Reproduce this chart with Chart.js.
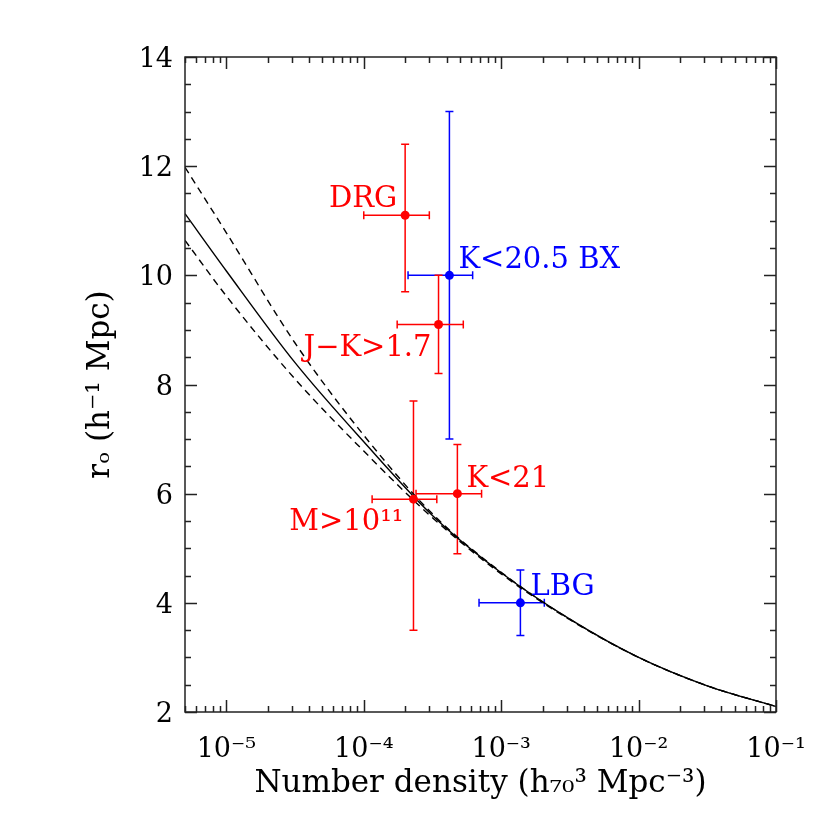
<!DOCTYPE html>
<html>
<head>
<meta charset="utf-8">
<script src="https://cdn.jsdelivr.net/npm/chart.js@4.4.1/dist/chart.umd.min.js"></script>
<style>
html,body{margin:0;padding:0;background:#ffffff;}
#wrap{width:830px;height:830px;position:relative;}
</style>
</head>
<body>
<div id="wrap"><canvas id="c"></canvas></div>
<script>
// ---- data ----
const sampleNames = ['DRG', 'K<20.5 BX', 'J\u2212K>1.7', 'K<21', 'M>10\u00B9\u00B9', 'LBG'];
const density     = [2.0e-4, 4.2e-4, 3.5e-4, 4.8e-4, 2.3e-4, 1.38e-3];
const densityLow  = [1.0e-4, 2.1e-4, 1.75e-4, 2.4e-4, 1.15e-4, 6.9e-4];
const densityHigh = [3.0e-4, 6.2e-4, 5.3e-4, 7.2e-4, 3.4e-4, 2.06e-3];
const r0          = [11.1, 10.0, 9.1, 6.0, 5.9, 4.0];
const r0Low       = [9.7, 7.0, 8.2, 4.9, 3.5, 3.4];
const r0High      = [12.4, 13.0, 10.0, 6.9, 7.7, 4.6];

const modelDensity = [5e-6, 1e-5, 3.16e-5, 1e-4, 3.16e-4, 1e-3, 3.16e-3, 1e-2, 3.16e-2, 1e-1];
const modelR0      = [11.13, 10.08, 8.40, 6.95, 5.60, 4.55, 3.70, 3.00, 2.48, 2.10];
const modelR0Upper = [11.98, 10.78, 8.76, 7.07, 5.63, 4.56, 3.70, 3.00, 2.48, 2.10];
const modelR0Lower = [10.64, 9.62, 8.10, 6.78, 5.56, 4.53, 3.69, 3.00, 2.48, 2.10];

const xTickValues = [1e-5, 1e-4, 1e-3, 1e-2, 1e-1];
const xTickLabels = ['10\u207B\u2075', '10\u207B\u2074', '10\u207B\u00B3', '10\u207B\u00B2', '10\u207B\u00B9'];
const yTickValues = [2, 4, 6, 8, 10, 12, 14];

// ---- styles ----
const RED = '#ff0000', BLUE = '#0000ff';
const sampleColors = [RED, BLUE, RED, RED, RED, BLUE];
// label placement relative to the point: [dx, dy, align]
const labelPlacement = [[-8, -8, 'right'], [9, -7, 'left'], [-7, 32, 'right'], [9, -7, 'left'], [-10, 31, 'right'], [10, -8, 'left']];
const FONT = "'DejaVu Serif', 'DejaVu Sans', serif";

const points = density.map((d, i) => ({x: d, y: r0[i]}));
const toXY = (xs, ys) => xs.map((x, i) => ({x: x, y: ys[i]}));

const errorBarPlugin = {
  id: 'errorBars',
  beforeDatasetsDraw(chart) {
    const {ctx, scales: {x, y}} = chart;
    const cap = 4;
    ctx.save();
    ctx.lineWidth = 1.5;
    density.forEach((d, i) => {
      const px = x.getPixelForValue(d), py = y.getPixelForValue(r0[i]);
      const xl = x.getPixelForValue(densityLow[i]), xh = x.getPixelForValue(densityHigh[i]);
      const yl = y.getPixelForValue(r0Low[i]), yh = y.getPixelForValue(r0High[i]);
      ctx.strokeStyle = sampleColors[i];
      ctx.beginPath();
      ctx.moveTo(xl, py); ctx.lineTo(xh, py);
      ctx.moveTo(xl, py - cap); ctx.lineTo(xl, py + cap);
      ctx.moveTo(xh, py - cap); ctx.lineTo(xh, py + cap);
      ctx.moveTo(px, yl); ctx.lineTo(px, yh);
      ctx.moveTo(px - cap, yl); ctx.lineTo(px + cap, yl);
      ctx.moveTo(px - cap, yh); ctx.lineTo(px + cap, yh);
      ctx.stroke();
    });
    ctx.restore();
  }
};

const labelPlugin = {
  id: 'sampleLabels',
  afterDatasetsDraw(chart) {
    const {ctx, scales: {x, y}} = chart;
    ctx.save();
    ctx.font = "29px " + FONT;
    ctx.textBaseline = 'alphabetic';
    sampleNames.forEach((name, i) => {
      const [dx, dy, align] = labelPlacement[i];
      ctx.fillStyle = sampleColors[i];
      ctx.textAlign = align;
      ctx.fillText(name, x.getPixelForValue(density[i]) + dx, y.getPixelForValue(r0[i]) + dy);
    });
    ctx.restore();
  }
};

const framePlugin = {
  id: 'frameTicks',
  afterDraw(chart) {
    const {ctx, chartArea: a, scales: {x, y}} = chart;
    ctx.save();
    ctx.strokeStyle = '#222';
    ctx.lineWidth = 1.5;
    ctx.strokeRect(a.left, a.top, a.right - a.left, a.bottom - a.top);
    ctx.beginPath();
    const major = 12, minor = 6;
    const yMajor = y.ticks.map(t => t.value);
    const yStep = yMajor[1] - yMajor[0];
    for (let v = y.min; v <= y.max + 1e-9; v += yStep / 4) {
      const isMajor = yMajor.some(m => Math.abs(m - v) < 1e-9);
      const len = isMajor ? major : minor;
      const py = Math.round(y.getPixelForValue(v)) + 0.5;
      ctx.moveTo(a.left, py); ctx.lineTo(a.left + len, py);
      ctx.moveTo(a.right, py); ctx.lineTo(a.right - len, py);
    }
    const lo = Math.floor(Math.log10(x.min)), hi = Math.ceil(Math.log10(x.max));
    for (let e = lo; e <= hi; e++) {
      for (let k = 1; k <= 9; k++) {
        const v = k * Math.pow(10, e);
        if (v < x.min * 0.999 || v > x.max * 1.001) continue;
        const len = k === 1 ? major : minor;
        const px = Math.round(x.getPixelForValue(v)) + 0.5;
        ctx.moveTo(px, a.bottom); ctx.lineTo(px, a.bottom - len);
        ctx.moveTo(px, a.top); ctx.lineTo(px, a.top + len);
      }
    }
    ctx.stroke();
    ctx.restore();
  }
};

const lineStyle = {showLine: true, pointRadius: 0, borderColor: '#000', borderWidth: 1.4, cubicInterpolationMode: 'monotone', fill: false};

new Chart(document.getElementById('c'), {
  type: 'scatter',
  data: {
    datasets: [
      {label: 'samples', data: points, backgroundColor: sampleColors, borderWidth: 0, pointRadius: 4.5, pointHoverRadius: 4.5, order: 0},
      Object.assign({label: 'model', data: toXY(modelDensity, modelR0), order: 1}, lineStyle),
      Object.assign({label: 'model upper', data: toXY(modelDensity, modelR0Upper), borderDash: [7, 5], order: 2}, lineStyle),
      Object.assign({label: 'model lower', data: toXY(modelDensity, modelR0Lower), borderDash: [7, 5], order: 3}, lineStyle)
    ]
  },
  options: {
    responsive: true,
    maintainAspectRatio: false,
    animation: false,
    devicePixelRatio: 1,
    layout: {padding: {top: 57, right: 54, left: 0, bottom: 0}},
    plugins: {legend: {display: false}, tooltip: {enabled: false}},
    scales: {
      x: {
        type: 'logarithmic',
        min: 5e-6, max: 0.1,
        afterBuildTicks: s => { s.ticks = xTickValues.map(v => ({value: v})); },
        afterFit: s => { s.height = 118; },
        grid: {display: false, drawTicks: false},
        border: {display: false},
        ticks: {
          callback: (v, i) => xTickLabels[i],
          font: {family: FONT, size: 27},
          color: '#000',
          padding: 22,
          maxRotation: 0,
          autoSkip: false
        },
        title: {display: true, text: 'Number density (h\u2087\u2080\u00B3 Mpc\u207B\u00B3)', font: {family: FONT, size: 31}, color: '#000', padding: {top: 0, bottom: 27}}
      },
      y: {
        min: 2, max: 14,
        afterBuildTicks: s => { s.ticks = yTickValues.map(v => ({value: v})); },
        afterFit: s => { s.width = 185; },
        grid: {display: false, drawTicks: false},
        border: {display: false},
        ticks: {
          font: {family: FONT, size: 27},
          color: '#000',
          padding: 12,
          labelOffset: 3
        },
        title: {display: true, text: 'r\u2092 (h\u207B\u00B9 Mpc)', font: {family: FONT, size: 31}, color: '#000', padding: {top: 82, bottom: 0}}
      }
    }
  },
  plugins: [errorBarPlugin, labelPlugin, framePlugin]
});
</script>
</body>
</html>
